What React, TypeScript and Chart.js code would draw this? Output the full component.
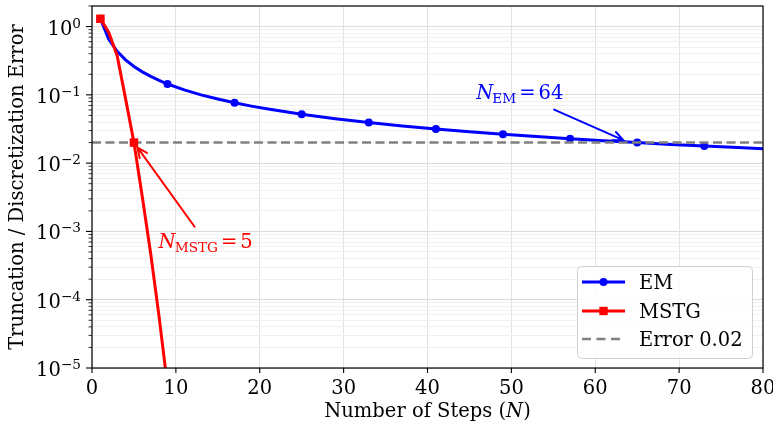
import React, { useEffect, useRef } from 'react';
import { Chart, registerables } from 'chart.js';
Chart.register(...registerables);

// ---- data ----
const emSteps = [1, 2, 3, 4, 5, 6, 7, 8, 9, 11, 13, 15, 17, 19, 21, 25, 29, 33, 37, 41, 45, 49, 53, 57, 61, 65, 69, 73, 77, 80];
const emError = [1.3, 0.65, 0.433, 0.325, 0.26, 0.217, 0.186, 0.163, 0.144, 0.118, 0.1, 0.0867, 0.0765, 0.0684, 0.0619, 0.052, 0.0448, 0.0394, 0.0351, 0.0317, 0.0289, 0.0265, 0.0245, 0.0228, 0.0213, 0.02, 0.0188, 0.0178, 0.0169, 0.01625];
const emMarkerSteps = [1, 9, 17, 25, 33, 41, 49, 57, 65, 73];
const mstgSteps = [1, 2, 3, 4, 5, 6, 7, 8, 9];
const mstgError = [1.3, 0.82, 0.375, 0.088, 0.02, 0.0032, 0.00047, 0.000056, 0.0000055];
const mstgMarkerSteps = [1, 5];
const errorThreshold = 0.02;
const thresholdSpan = [0, 80];
const xTicks = [0, 10, 20, 30, 40, 50, 60, 70, 80];
const yDecades = [-5, -4, -3, -2, -1, 0];
const legendLabels = ['EM', 'MSTG', 'Error 0.02'];
const xTitle = 'Number of Steps (';
const xTitleVar = 'N';
const yTitle = 'Truncation / Discretization Error';
// annotations: [pointX, pointY, textX, textY, arrowStartX, arrowStartY]
const emAnnot = { sub: 'EM', value: '64', px: 64, py: 0.02, tx: 45.8, ty: 0.086, ax: 55.1, ay: 0.0607 };
const mstgAnnot = { sub: 'MSTG', value: '5', px: 5, py: 0.02, tx: 7.94, ty: 0.00058, ax: 12.23, ay: 0.00117 };

const BLUE = '#0000ff';
const RED = '#ff0000';
const GRAY = '#808080';
const FONT = 'DejaVu Serif';
const FS = 19.5;

function drawArrow(ctx: CanvasRenderingContext2D, x0: number, y0: number, x1: number, y1: number, color: string, shrink: number) {
  const dx = x1 - x0, dy = y1 - y0;
  const len = Math.hypot(dx, dy);
  const ux = dx / len, uy = dy / len;
  const tx = x1 - ux * shrink, ty = y1 - uy * shrink;
  ctx.save();
  ctx.strokeStyle = color;
  ctx.lineWidth = 2;
  ctx.lineCap = 'round';
  ctx.beginPath();
  ctx.moveTo(x0, y0);
  ctx.lineTo(tx, ty);
  const ang = Math.atan2(uy, ux);
  const hl = 11, ha = 0.42;
  ctx.moveTo(tx - hl * Math.cos(ang - ha), ty - hl * Math.sin(ang - ha));
  ctx.lineTo(tx, ty);
  ctx.lineTo(tx - hl * Math.cos(ang + ha), ty - hl * Math.sin(ang + ha));
  ctx.stroke();
  ctx.restore();
}

function drawMathLabel(ctx: CanvasRenderingContext2D, x: number, y: number, sub: string, value: string, color: string) {
  ctx.save();
  ctx.fillStyle = color;
  ctx.textAlign = 'left';
  ctx.textBaseline = 'alphabetic';
  ctx.font = `italic ${FS}px ${FONT}`;
  ctx.fillText('N', x, y);
  let cx = x + ctx.measureText('N').width - 1;
  ctx.font = `${FS * 0.7}px ${FONT}`;
  ctx.fillText(sub, cx, y + 4);
  cx += ctx.measureText(sub).width + 3;
  ctx.font = `${FS}px ${FONT}`;
  ctx.fillText('=', cx, y);
  cx += ctx.measureText('=').width + 3;
  ctx.fillText(value, cx, y);
  ctx.restore();
}

const decorPlugin = {
  id: 'decor',
  afterDraw(chart: any) {
    const ctx: CanvasRenderingContext2D = chart.ctx;
    const { left, right, top, bottom } = chart.chartArea;
    const xs = chart.scales.x;
    const ys = chart.scales.y;
    ctx.save();
    // frame
    ctx.strokeStyle = '#000';
    ctx.lineWidth = 1.2;
    ctx.strokeRect(left, top, right - left, bottom - top);
    // x ticks
    ctx.fillStyle = '#000';
    ctx.font = `${FS}px ${FONT}`;
    ctx.textAlign = 'center';
    ctx.textBaseline = 'alphabetic';
    ctx.lineWidth = 1.1;
    for (const v of xTicks) {
      const px = xs.getPixelForValue(v);
      ctx.beginPath();
      ctx.moveTo(px, bottom);
      ctx.lineTo(px, bottom + 5);
      ctx.stroke();
      ctx.fillText(String(v), px, bottom + 26);
    }
    // y ticks
    for (const e of yDecades) {
      const py = ys.getPixelForValue(Math.pow(10, e));
      ctx.lineWidth = 1.1;
      ctx.beginPath();
      ctx.moveTo(left - 6, py);
      ctx.lineTo(left, py);
      ctx.stroke();
      const sup = e === 0 ? '0' : '\u2212' + Math.abs(e);
      ctx.font = `${FS * 0.7}px ${FONT}`;
      const w2 = ctx.measureText(sup).width;
      ctx.font = `${FS}px ${FONT}`;
      const w1 = ctx.measureText('10').width;
      const xr = left - 11;
      ctx.textAlign = 'left';
      ctx.fillText('10', xr - w2 - w1, py + 8);
      ctx.font = `${FS * 0.7}px ${FONT}`;
      ctx.fillText(sup, xr - w2, py + 1);
      ctx.lineWidth = 0.8;
      for (let m = 2; m <= 9; m++) {
        const v = m * Math.pow(10, e);
        if (v > ys.max) break;
        const pm = ys.getPixelForValue(v);
        ctx.beginPath();
        ctx.moveTo(left - 3.5, pm);
        ctx.lineTo(left, pm);
        ctx.stroke();
      }
    }
    // axis titles
    ctx.font = `${FS}px ${FONT}`;
    const w1 = ctx.measureText(xTitle).width;
    ctx.font = `italic ${FS}px ${FONT}`;
    const w2 = ctx.measureText(xTitleVar).width;
    ctx.font = `${FS}px ${FONT}`;
    const w3 = ctx.measureText(')').width;
    const cxm = (left + right) / 2;
    let sx = cxm - (w1 + w2 + w3) / 2;
    const by = bottom + 48.5;
    ctx.textAlign = 'left';
    ctx.fillText(xTitle, sx, by);
    sx += w1;
    ctx.font = `italic ${FS}px ${FONT}`;
    ctx.fillText(xTitleVar, sx, by);
    sx += w2;
    ctx.font = `${FS}px ${FONT}`;
    ctx.fillText(')', sx, by);

    ctx.save();
    ctx.translate(23, (top + bottom) / 2);
    ctx.rotate(-Math.PI / 2);
    ctx.textAlign = 'center';
    ctx.fillText(yTitle, 0, 0);
    ctx.restore();

    // annotations
    for (const [a, color] of [[emAnnot, BLUE], [mstgAnnot, RED]] as any) {
      drawArrow(ctx, xs.getPixelForValue(a.ax), ys.getPixelForValue(a.ay), xs.getPixelForValue(a.px), ys.getPixelForValue(a.py), color, 6);
      drawMathLabel(ctx, xs.getPixelForValue(a.tx), ys.getPixelForValue(a.ty), a.sub, a.value, color);
    }

    // legend
    const bw = 175, bh = 92;
    const bx = right - 11 - bw, byy = bottom - 10 - bh;
    ctx.fillStyle = 'rgba(255,255,255,0.85)';
    ctx.strokeStyle = '#d0d0d0';
    ctx.lineWidth = 1;
    ctx.beginPath();
    (ctx as any).roundRect(bx + 0.5, byy + 0.5, bw, bh, 4);
    ctx.fill();
    ctx.stroke();
    const rows = [16, 45, 73];
    const colors = [BLUE, RED, GRAY];
    rows.forEach((ry, i) => {
      const yy = byy + ry;
      ctx.strokeStyle = colors[i];
      ctx.fillStyle = colors[i];
      if (i === 2) {
        ctx.lineWidth = 2.5;
        ctx.setLineDash([9, 5.5]);
      } else {
        ctx.lineWidth = 3;
        ctx.setLineDash([]);
      }
      ctx.beginPath();
      ctx.moveTo(bx + 5, yy);
      ctx.lineTo(bx + 48, yy);
      ctx.stroke();
      ctx.setLineDash([]);
      if (i === 0) {
        ctx.beginPath();
        ctx.arc(bx + 26.5, yy, 4, 0, Math.PI * 2);
        ctx.fill();
      } else if (i === 1) {
        ctx.fillRect(bx + 26.5 - 4.2, yy - 4.2, 8.4, 8.4);
      }
      ctx.fillStyle = '#000';
      ctx.font = `${FS}px ${FONT}`;
      ctx.textAlign = 'left';
      ctx.fillText(legendLabels[i], bx + 62, yy + 7);
    });
    ctx.restore();
  },
};

function isMajor(v: number) {
  const l = Math.log10(v);
  return Math.abs(l - Math.round(l)) < 1e-9;
}

export default function App() {
  const ref = useRef<HTMLCanvasElement>(null);
  useEffect(() => {
    document.body.style.margin = '0';
    const canvas = ref.current!;
    const chart = new Chart(canvas, {
      type: 'line',
      data: {
        datasets: [
          {
            label: legendLabels[1],
            data: mstgSteps.map((s, i) => ({ x: s, y: mstgError[i] })),
            borderColor: RED,
            backgroundColor: RED,
            borderWidth: 3,
            pointStyle: 'rect',
            pointRadius: mstgSteps.map((s) => (mstgMarkerSteps.includes(s) ? 6 : 0)),
            pointBorderWidth: 0,
            pointBackgroundColor: RED,
            tension: 0,
            order: 0,
          },
          {
            label: legendLabels[2],
            data: thresholdSpan.map((x) => ({ x, y: errorThreshold })),
            borderColor: GRAY,
            borderWidth: 2.5,
            borderDash: [9, 4.5],
            pointRadius: 0,
            order: 1,
          },
          {
            label: legendLabels[0],
            data: emSteps.map((s, i) => ({ x: s, y: emError[i] })),
            borderColor: BLUE,
            backgroundColor: BLUE,
            borderWidth: 3,
            pointStyle: 'circle',
            pointRadius: emSteps.map((s) => (emMarkerSteps.includes(s) ? 4 : 0)),
            pointBorderWidth: 0,
            pointBackgroundColor: BLUE,
            tension: 0,
            order: 2,
          },
        ],
      },
      options: {
        responsive: false,
        animation: false,
        devicePixelRatio: 1,
        layout: { padding: { top: 3, right: 10, left: 0, bottom: 0 } },
        plugins: { legend: { display: false }, tooltip: { enabled: false } },
        scales: {
          x: {
            type: 'linear',
            min: 0,
            max: 80,
            ticks: { display: false, stepSize: 10 },
            grid: { color: '#e2e2e2', lineWidth: 1, drawTicks: false },
            border: { display: false },
            afterFit: (s: any) => {
              s.height = 55;
            },
          },
          y: {
            type: 'logarithmic',
            min: 1e-5,
            max: 2,
            ticks: { display: false },
            afterBuildTicks: (s: any) => {
              const t: any[] = [];
              for (const e of yDecades) {
                for (let m = 1; m <= 9; m++) {
                  const v = m * Math.pow(10, e);
                  if (v <= 2.0000001) t.push({ value: v });
                }
              }
              s.ticks = t;
            },
            grid: {
              color: (c: any) => (c.tick && isMajor(c.tick.value) ? '#dcdcdc' : '#f0f0f0'),
              lineWidth: 1,
              drawTicks: false,
            },
            border: { display: false },
            afterFit: (s: any) => {
              s.width = 92;
            },
          },
        },
      },
      plugins: [decorPlugin],
    } as any);
    return () => chart.destroy();
  }, []);
  return <canvas ref={ref} width={773} height={423} style={{ display: 'block' }} />;
}
